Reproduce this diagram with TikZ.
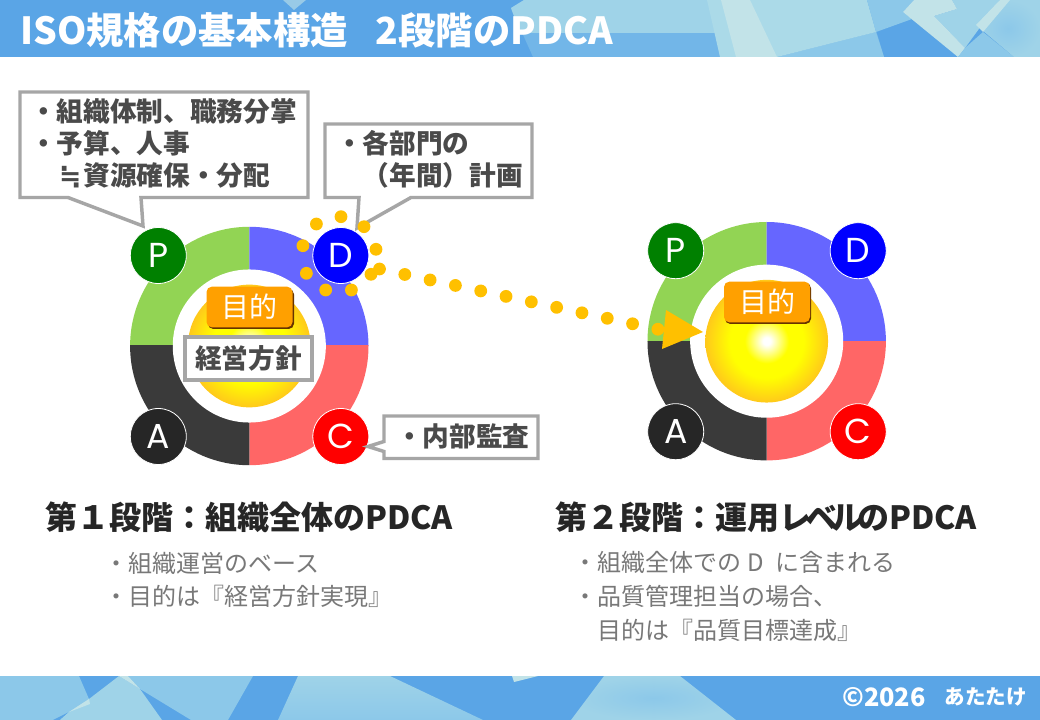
\documentclass[tikz,border=0pt]{standalone}
\usepackage{fontspec}
\setmainfont{Noto Sans CJK JP}
\newfontfamily\lettersf{Poppins}
\newfontfamily\symbolsf{DejaVu Sans}
\usetikzlibrary{calc}
\definecolor{bandblue}{HTML}{5AA5E6}
\definecolor{paleA}{HTML}{9FD3E8}
\definecolor{paleB}{HTML}{72B6E8}
\definecolor{paleC}{HTML}{C2E3E8}
\definecolor{paleD}{HTML}{8CC8E9}
\definecolor{paleE}{HTML}{ABDAE8}
\definecolor{greyline}{HTML}{A6A6A6}
\definecolor{dotgold}{HTML}{FFC000}
\definecolor{tagorange}{HTML}{FFA000}
\definecolor{calltext}{HTML}{4A4A4A}
\definecolor{listtext}{HTML}{787878}
\definecolor{headtext}{HTML}{262626}
\definecolor{balledge}{HTML}{FFBE20}
\pgfdeclareradialshading{ballshade}{\pgfpoint{0bp}{0bp}}{color(0bp)=(white); color(1.5bp)=(white); color(9bp)=(yellow); color(15bp)=(yellow); color(27bp)=(balledge); color(100bp)=(balledge)}
\tikzset{
  bandtext/.style={text=white,font=\bfseries,inner sep=0pt},
  letter/.style={circle,minimum size=42pt,inner sep=0pt,draw=white,line width=.6pt,text=white,font=\lettersf\fontsize{26}{26}\selectfont},
  callout/.style={draw=greyline,fill=white,line width=2.6pt,line join=miter},
  calltxt/.style={text=calltext,font=\bfseries\fontsize{20}{24}\selectfont,align=left,anchor=west,inner sep=0pt},
  tagbox/.style={fill=tagorange,rounded corners=4pt,minimum width=64.5pt,minimum height=30.5pt,inner sep=0pt,text=white,font=\fontsize{21}{21}\selectfont},
  tagshadow/.style={fill=black!60!orange,rounded corners=4pt},
  goldfill/.style={fill=dotgold},
  headline/.style={text=headtext,font=\bfseries\fontsize{24}{24}\selectfont,anchor=west,inner sep=0pt},
  listline/.style={text=listtext,font=\fontsize{18}{18}\selectfont,anchor=west,inner sep=0pt}
}
\newcommand{\pdcaring}[3]{%
  \begin{scope}\clip (#2-120,#3-120) rectangle (#2,#3);\fill[fill={rgb,255:red,146;green,212;blue,84}] (#2,#3) circle[radius=89.4pt];\end{scope}
  \begin{scope}\clip (#2,#3-120) rectangle (#2+120,#3);\fill[fill={rgb,255:red,102;green,102;blue,255}] (#2,#3) circle[radius=89.4pt];\end{scope}
  \begin{scope}\clip (#2,#3) rectangle (#2+120,#3+120);\fill[fill={rgb,255:red,255;green,102;blue,102}] (#2,#3) circle[radius=89.4pt];\end{scope}
  \begin{scope}\clip (#2-120,#3) rectangle (#2,#3+120);\fill[fill={rgb,255:red,58;green,58;blue,58}] (#2,#3) circle[radius=89.4pt];\end{scope}
  \fill[white] (#2,#3) circle[radius=57.4pt];
  \shade[shading=ballshade] (#2,#3) circle[radius=46pt];
  \node[letter,fill={rgb,255:red,0;green,128;blue,0}] (#1P) at (#2-91,#3-90.5) {P};
  \node[letter,fill={rgb,255:red,0;green,0;blue,255}] (#1D) at (#2+91.5,#3-90.5) {D};
  \node[letter,fill={rgb,255:red,38;green,38;blue,38}] (#1A) at (#2-91,#3+90.5) {A};
  \node[letter,fill={rgb,255:red,255;green,0;blue,0}] (#1C) at (#2+91.5,#3+90.5) {C};
}
\begin{document}
\begin{tikzpicture}[x=0.75pt,y=-0.75pt]
\useasboundingbox (0,0) rectangle (1040,720);
\fill[white] (0,0) rectangle (1040,720);
% header band
\fill[bandblue] (0,0) rectangle (1040,57);
\fill[paleC!60!bandblue] (283,0) -- (306,0) -- (294,10) -- cycle;
\fill[paleB] (511,8) -- (524,0) -- (867,0) -- (884,57) -- (533,57) -- cycle;
\fill[paleA] (511,8) -- (524,0) -- (796,0) -- (796,33) -- (520,33) -- cycle;
\fill[paleD] (777,57) -- (876,32) -- (884,57) -- cycle;
\fill[paleE] (707,0) -- (867,0) -- (876,32) -- (777,57) -- (720,57) -- cycle;
\fill[paleC] (721,0) -- (750,0) -- (777,57) -- (736,57) -- cycle;
\fill[paleD] (867,0) -- (914,0) -- (903,12) -- (912,19) -- (876,32) -- cycle;
\fill[paleA] (952,0) -- (1000,0) -- (965,48) -- (934,16) -- (957,9) -- cycle;
\fill[paleC] (903,12) -- (914,0) -- (952,0) -- (957,9) -- (934,16) -- (965,48) -- (958,57) -- cycle;
\fill[paleD] (958,57) -- (965,48) -- (983,32) -- (1014,57) -- cycle;
\shade[inner color=paleD,outer color=paleA] (1000,0) -- (1040,0) -- (1040,57) -- (1014,57) -- (976,25) -- cycle;
\fill[paleC] (976,25) -- (1000,0) -- (1010,0) -- (983,32) -- cycle;
% footer band
\fill[bandblue] (0,676) rectangle (1040,720);
\fill[paleD] (0,676) -- (79,676) -- (89,699) -- (60,720) -- (0,720) -- cycle;
\fill[bandblue] (53,720) -- (69,712) -- (60,720) -- cycle;
\fill[paleA] (119,676) -- (89,699) -- (69,712) -- (60,720) -- (162,720) -- (140,689) -- cycle;
\fill[paleC] (89,699) -- (90,704) -- (69,712) -- cycle;
\fill[paleD] (128,676) -- (253,676) -- (228,720) -- (191,720) -- (140,689) -- cycle;
\fill[paleC] (119,676) -- (128,676) -- (140,689) -- cycle;
\shade[top color=paleA,bottom color=paleD] (298,676) -- (390,676) -- (483,720) -- (278,720) -- cycle;
\fill[paleC] (512,676) -- (538,676) -- (514,682) -- cycle;
\shade[inner color=paleD,outer color=paleA] (604,676) -- (680,676) -- (736,720) -- (571,720) -- cycle;
\node[bandtext,anchor=west,font=\bfseries\fontsize{28}{28}\selectfont] (title) at (20,30) {ISO規格の基本構造\hspace{.75em}2段階のPDCA};
\node[bandtext,anchor=west,font=\bfseries\fontsize{19}{19}\selectfont] (copy) at (842,697) {©2026};
\node[bandtext,anchor=east,font=\bfseries\fontsize{15.4}{15.4}\selectfont] (author) at (1027,697) {あたたけ};
% rings
\pdcaring{a}{249.3}{346}
\pdcaring{b}{766.7}{341.2}
% first stage callouts
\draw[callout] (20,92) -- (308,92) -- (308,197.5) -- (141,197.5) -- (143,226) -- (68,197.5) -- (20,197.5) -- cycle;
\node[calltxt] (planbox) at (30,143) {・組織体制、職務分掌\\・予算、人事\\\hspace{1em}\makebox[1em]{\symbolsf ≒}資源確保・分配};
\draw[callout] (325,124) -- (532,124) -- (532,197.5) -- (411,197.5) -- (357,228) -- (359,197.5) -- (325,197.5) -- cycle;
\node[calltxt] (dobox) at (336,159) {・各部門の\\\hspace{1em}（年間）計画};
\draw[callout] (384,416) -- (538,416) -- (538,458.5) -- (384,458.5) -- (384,451.5) -- (368,446.5) -- (384,441.5) -- cycle;
\node[calltxt] (checkbox) at (396,436) {・内部監査};
% tags
\fill[tagshadow] (208,289) rectangle (294,329);
\node[tagbox] (tagA) at (249.5,307) {目的};
\node[draw=greyline,fill=white,line width=2.6pt,minimum width=95.5pt,minimum height=32.5pt,inner sep=0pt,text=calltext,font=\bfseries\fontsize{20}{20}\selectfont] (policy) at (248.5,358.5) {経営方針};
\fill[tagshadow] (725,283) rectangle (811,324);
\node[tagbox] (tagB) at (767,302) {目的};
% dots around D
\foreach \dx/\dy in {316.4/224,341/216.7,364/226.7,376/249.3,371/274.3,351.4/290,325.7/290,306.4/273.3,302.9/245.7}
  \fill[goldfill] (\dx,\dy) circle[radius=4.8pt];
% dotted arrow
\coordinate (dotstart) at (379.5,269);
\coordinate (dotend) at (659,329.5);
\draw[dotgold,line width=9.6pt,line cap=round,dash pattern=on 0pt off 19.42pt] (dotstart) -- (dotend);
\coordinate (tipA) at (666,310);
\coordinate (tipB) at (703,332);
\coordinate (tipC) at (662,349);
\fill[goldfill] (tipA) -- (tipB) -- (tipC) -- cycle;
% captions
\node[headline] (head1) at (45,517) {第１段階：組織全体のPDCA};
\node[headline] (head2) at (555,517) {第２段階：運用レ\kern-4.5ptベ\kern-4.5ptル\kern-4.5ptのPDCA};
\node[listline] (l1) at (104,563) {・組織運営のベース};
\node[listline] (l2) at (104,596) {・目的は『経営方針実現』};
\node[listline] (r1) at (573,562) {・組織全体での\hspace{.25em}D\hspace{.25em} に含まれる};
\node[listline] (r2) at (573,596) {・品質管理担当の場合、};
\node[listline] (r3) at (597,630) {目的は『品質目標達成』};
\end{tikzpicture}
\end{document}
